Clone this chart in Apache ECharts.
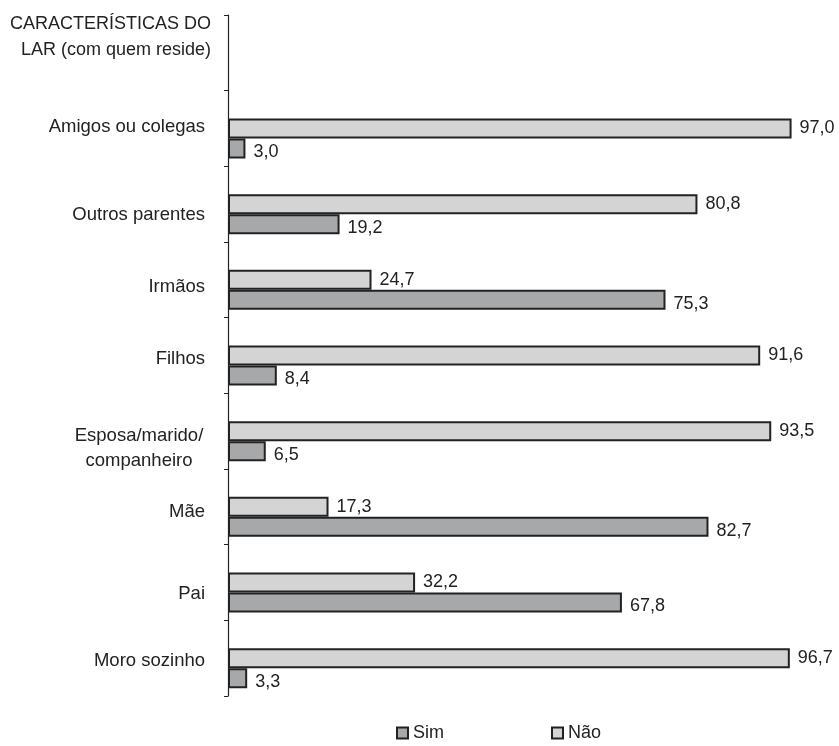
<!DOCTYPE html>
<html>
<head>
<meta charset="utf-8">
<script src="https://cdn.jsdelivr.net/npm/echarts@6/dist/echarts.min.js"></script>
<style>
html,body{margin:0;padding:0;background:#fff;}
#chart{width:839px;height:746px;}
</style>
</head>
<body>
<div id="chart"></div>
<script>
// Data (bottom to top on the category axis)
const categories = ['Moro sozinho', 'Pai', 'Mãe', 'Esposa/marido/\ncompanheiro', 'Filhos', 'Irmãos', 'Outros parentes', 'Amigos ou colegas', 'CARACTERÍSTICAS DO\nLAR (com quem reside)'];
const simValues = [3.3, 67.8, 82.7, 6.5, 8.4, 75.3, 19.2, 3.0, '-'];
const naoValues = [96.7, 32.2, 17.3, 93.5, 91.6, 24.7, 80.8, 97.0, '-'];
const spacerValues = ['-', '-', '-', '-', '-', '-', '-', '-', '-'];
const seriesNames = ['Sim', 'Não'];

// label vertical shifts (px, positive = down) per category
const labelShift = [2.5, 11, 5, 17, 3.5, 7, 11, -1.5, -16];

const FONT = '"Liberation Sans", Arial, sans-serif';
const catData = categories.map((c, i) => {
  const s = labelShift[i];
  const isHeader = i === categories.length - 1;
  const right = isHeader ? 0 : 6;
  const pad = s >= 0 ? [2 * s, right, 0, 0] : [0, right, -2 * s, 0];
  const ts = { padding: pad };
  if (isHeader) ts.fontSize = 18;
  return { value: c, textStyle: ts };
});

const fmt = v => (typeof v === 'number' ? v.toFixed(1).replace('.', ',') : '');

const chart = echarts.init(document.getElementById('chart'));
chart.setOption({
  animation: false,
  backgroundColor: '#fff',
  textStyle: { fontFamily: FONT },
  grid: { left: 228, right: 30, top: 15, bottom: 50, containLabel: false },
  legend: {
    data: seriesNames,
    left: 391,
    top: 719,
    icon: 'rect',
    itemWidth: 11,
    itemHeight: 11,
    itemGap: 107,
    textStyle: { fontSize: 18, color: '#222', fontFamily: FONT }
  },
  xAxis: {
    type: 'value',
    min: 0,
    max: 100,
    show: false
  },
  yAxis: {
    type: 'category',
    data: catData,
    axisLine: { show: true, lineStyle: { color: '#222', width: 1.2 } },
    axisTick: { show: true, length: 4, lineStyle: { color: '#222' } },
    axisLabel: {
      fontSize: 18.5,
      color: '#222',
      fontFamily: FONT,
      margin: 17,
      lineHeight: 26,
      align: 'right',
      formatter: function (v) {
        if (v.indexOf('Esposa') === 0) {
          return v.split('\n').map(l => '{c|' + l + '}').join('\n');
        }
        return v;
      },
      rich: {
        c: { width: 132, align: 'center', fontSize: 18.5, lineHeight: 25, color: '#222', fontFamily: FONT }
      }
    }
  },
  series: [
    {
      name: 'spacer',
      type: 'bar',
      data: spacerValues,
      barWidth: 20,
      barGap: '0%',
      silent: true,
      itemStyle: { color: 'transparent' }
    },
    {
      name: 'Não',
      type: 'bar',
      data: naoValues,
      barWidth: 20,
      barGap: '0%',
      itemStyle: { color: '#d4d4d4', borderColor: '#222', borderWidth: 2 },
      label: { show: true, position: 'right', distance: 8, fontSize: 18, color: '#222', fontFamily: FONT, formatter: p => fmt(p.value) }
    },
    {
      name: 'Sim',
      type: 'bar',
      data: simValues,
      barWidth: 20,
      barGap: '0%',
      itemStyle: { color: '#a7a8aa', borderColor: '#222', borderWidth: 2 },
      label: { show: true, position: 'right', distance: 8, offset: [0, 4], fontSize: 18, color: '#222', fontFamily: FONT, formatter: p => fmt(p.value) }
    }
  ]
});
</script>
</body>
</html>
